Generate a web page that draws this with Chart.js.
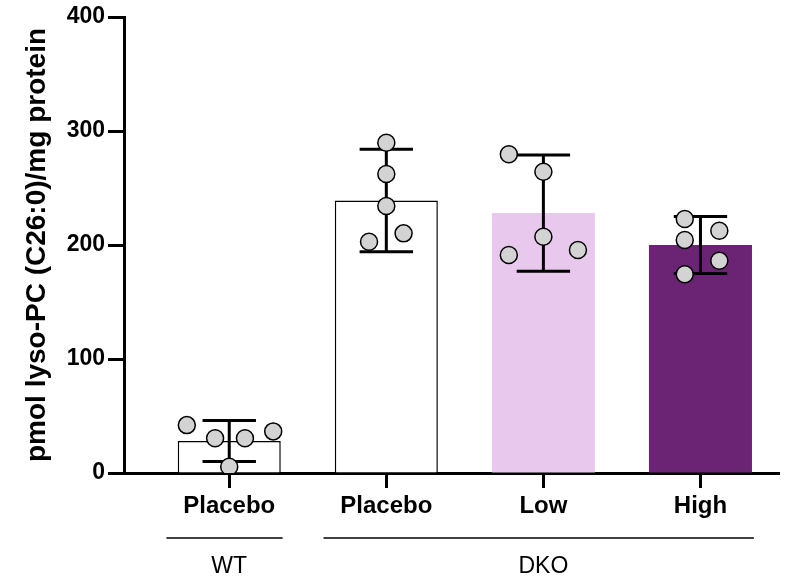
<!DOCTYPE html>
<html>
<head>
<meta charset="utf-8">
<title>lyso-PC (C26:0)</title>
<script src="https://cdn.jsdelivr.net/npm/chart.js@4.4.1/dist/chart.umd.min.js"></script>
<style>
  html, body { margin: 0; padding: 0; background: #ffffff; }
  #wrap { width: 800px; height: 582px; }
</style>
</head>
<body>
<div id="wrap"><canvas id="chart" width="800" height="582"></canvas></div>
<script>
// Treatment groups along the x axis and the genotype each belongs to
const groups = ['Placebo', 'Placebo', 'Low', 'High'];
const genotypeNames = ['WT', 'DKO'];
const genotypeOfGroup = [0, 1, 1, 1];

// Group means and standard deviations (pmol/mg protein)
const meanValues = [28, 239, 228, 200];
const sdValues = [18, 45, 51, 25];

// Individual animals per group
const wtPlacebo = [42, 30.5, 30.5, 36.5, 5.5];
const dkoPlacebo = [289.7, 262.3, 234.2, 202.9, 210.2];
const dkoLow = [279.6, 264.3, 207.3, 191.2, 195.6];
const dkoHigh = [222.8, 204.4, 212.5, 186.2, 174.3];
const replicates = [wtPlacebo, dkoPlacebo, dkoLow, dkoHigh];

// Horizontal scatter of the dots inside each bar (in category widths)
const dotSpread = [
  [-0.27, -0.09, 0.10, 0.28, 0.00],
  [0.00, 0.00, 0.00, -0.11, 0.11],
  [-0.22, 0.00, 0.00, -0.22, 0.22],
  [-0.10, -0.10, 0.12, 0.12, -0.10]
];

const barFill = ['#ffffff', '#ffffff', '#e9c8ee', '#6b2374'];
const barEdge = [1.5, 1.5, 0, 0];

const FONT = "'Liberation Sans', Arial, Helvetica, sans-serif";
Chart.defaults.font.family = FONT;
Chart.defaults.color = '#000000';

const dots = [];
replicates.forEach((vals, g) => {
  vals.forEach((v, k) => dots.push({ x: g + dotSpread[g][k], y: v }));
});

// Mean ± SD whiskers, painted right after the bars so the dots sit on top
const errorBars = {
  id: 'errorBars',
  afterDatasetDraw(chart, args) {
    if (args.index !== 0) return;
    const { ctx, scales: { x, y } } = chart;
    const half = (x.getPixelForValue(0.17) - x.getPixelForValue(0));
    ctx.save();
    ctx.strokeStyle = '#000000';
    ctx.lineWidth = 3;
    meanValues.forEach((m, i) => {
      const px = x.getPixelForValue(i);
      const top = y.getPixelForValue(m + sdValues[i]);
      const bot = y.getPixelForValue(m - sdValues[i]);
      ctx.beginPath();
      ctx.moveTo(px, top); ctx.lineTo(px, bot);
      ctx.moveTo(px - half, top); ctx.lineTo(px + half, top);
      ctx.moveTo(px - half, bot); ctx.lineTo(px + half, bot);
      ctx.stroke();
    });
    ctx.restore();
  }
};

// Genotype brackets underneath the group names
const genotypeBrackets = {
  id: 'genotypeBrackets',
  afterDraw(chart) {
    const { ctx, chartArea, scales: { x } } = chart;
    const lineY = chartArea.bottom + 65;
    const textY = chartArea.bottom + 94;
    ctx.save();
    ctx.strokeStyle = '#000000';
    ctx.fillStyle = '#000000';
    ctx.lineWidth = 1.5;
    ctx.font = '23px ' + FONT;
    ctx.textAlign = 'center';
    ctx.textBaseline = 'middle';
    genotypeNames.forEach((name, gi) => {
      const members = genotypeOfGroup.map((g, i) => g === gi ? i : -1).filter(i => i >= 0);
      const first = members[0], last = members[members.length - 1];
      const x0 = x.getPixelForValue(first - 0.4);
      const x1 = x.getPixelForValue(last + 0.34);
      ctx.beginPath();
      ctx.moveTo(x0, lineY); ctx.lineTo(x1, lineY);
      ctx.stroke();
      const cx = (x.getPixelForValue(first) + x.getPixelForValue(last)) / 2;
      ctx.fillText(name, cx, textY);
    });
    ctx.restore();
  }
};

new Chart(document.getElementById('chart'), {
  type: 'bar',
  data: {
    datasets: [
      {
        type: 'bar',
        data: meanValues.map((v, i) => ({ x: i, y: v })),
        backgroundColor: barFill,
        borderColor: '#000000',
        borderWidth: barEdge,
        categoryPercentage: 1,
        barPercentage: 0.656,
        order: 2
      },
      {
        type: 'scatter',
        data: dots,
        pointRadius: 8.5,
        pointHoverRadius: 8.5,
        pointBackgroundColor: '#d3d3d3',
        pointBorderColor: '#000000',
        pointBorderWidth: 1.5,
        order: 1
      }
    ]
  },
  options: {
    responsive: false,
    animation: false,
    devicePixelRatio: 1,
    layout: { padding: { left: 16, top: 17, right: 21, bottom: 0 } },
    plugins: {
      legend: { display: false },
      tooltip: { enabled: false }
    },
    scales: {
      x: {
        type: 'linear',
        min: -0.67,
        max: 3.5,
        offset: false,
        afterBuildTicks: s => { s.ticks = groups.map((_, i) => ({ value: i })); },
        afterFit: s => { s.height = 109; },
        ticks: {
          callback: (v, i) => groups[i],
          autoSkip: false,
          maxRotation: 0,
          padding: 4,
          color: '#000000',
          font: { size: 24, weight: 'bold' }
        },
        grid: {
          offset: false,
          drawOnChartArea: false,
          drawTicks: true,
          tickLength: 15,
          tickWidth: 3,
          tickColor: '#000000'
        },
        border: { display: true, width: 3, color: '#000000' }
      },
      y: {
        min: 0,
        max: 400,
        afterFit: s => { s.width = 108; },
        ticks: {
          stepSize: 100,
          padding: 3,
          color: '#000000',
          font: { size: 23, weight: 'bold' }
        },
        grid: {
          drawOnChartArea: false,
          drawTicks: true,
          tickLength: 16,
          tickWidth: 3,
          tickColor: '#000000'
        },
        border: { display: true, width: 3, color: '#000000' },
        title: {
          display: true,
          text: 'pmol lyso-PC (C26:0)/mg protein',
          color: '#000000',
          font: { size: 28, weight: 'bold' },
          padding: { top: 4, bottom: 10 }
        }
      }
    }
  },
  plugins: [errorBars, genotypeBrackets]
});
</script>
</body>
</html>
